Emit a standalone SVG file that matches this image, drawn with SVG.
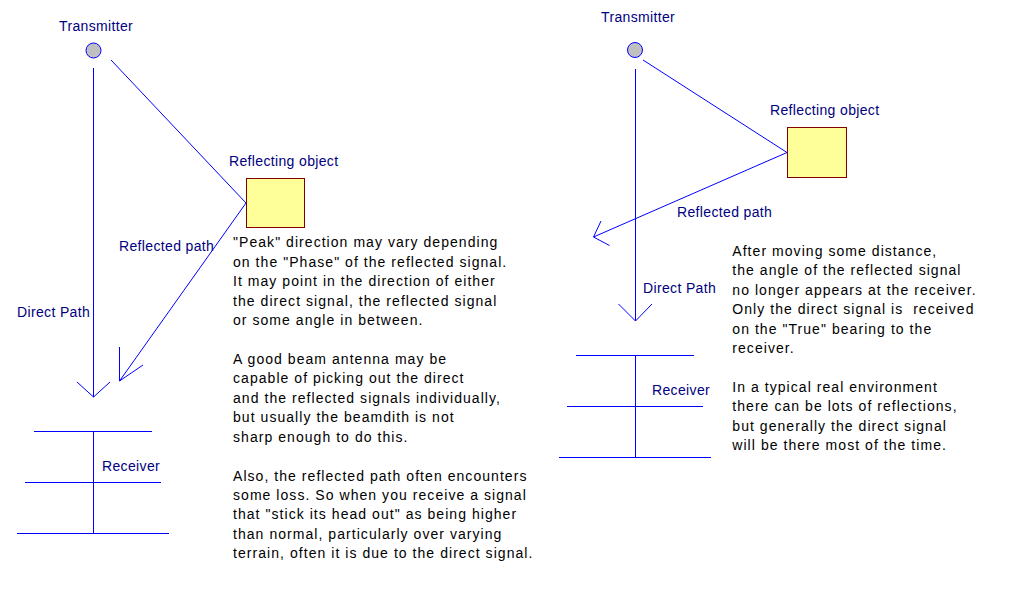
<svg xmlns="http://www.w3.org/2000/svg" width="1016" height="592" viewBox="0 0 1016 592">
<style>
.bg{fill:#ffffff}
.ln{stroke:#0000ff;stroke-width:1;fill:none}
.tx{fill:#c0c0c0;stroke:#0000ff;stroke-width:1}
.obj{fill:#ffff99;stroke:#800000;stroke-width:1}
.lbl{font-family:"Liberation Sans",Arial,sans-serif;font-size:14px;letter-spacing:0.35px;fill:#000080}
.body{font-family:"Liberation Sans",Arial,sans-serif;font-size:14px;letter-spacing:1.05px;fill:#000000;white-space:pre}
</style>
<rect class="bg" x="0" y="0" width="1016" height="592"/>

<!-- Left scene -->
<g id="left-transmitter">
  <circle class="tx" cx="93.5" cy="50.5" r="7.5"/>
  <text class="lbl" x="59" y="31">Transmitter</text>
</g>
<g id="left-reflector">
  <rect class="obj" x="246.5" y="178.5" width="58" height="49"/>
  <text class="lbl" x="229" y="166">Reflecting object</text>
</g>
<g id="left-receiver">
  <line class="ln" x1="93.5" y1="431" x2="93.5" y2="533"/>
  <line class="ln" x1="34" y1="431.5" x2="152" y2="431.5"/>
  <line class="ln" x1="25" y1="482.5" x2="161" y2="482.5"/>
  <line class="ln" x1="17" y1="533.5" x2="169" y2="533.5"/>
  <text class="lbl" x="102" y="471">Receiver</text>
</g>
<g id="left-connectors">
  <line class="ln" x1="93.5" y1="68" x2="93.5" y2="397"/>
  <polyline class="ln" points="77,382 93.5,397 110,382"/>
  <line class="ln" x1="111" y1="60" x2="246" y2="203"/>
  <line class="ln" x1="246" y1="203" x2="119.5" y2="381"/>
  <polyline class="ln" points="119.5,347 119.5,381 143,365"/>
  <text class="lbl" x="17" y="317">Direct Path</text>
  <text class="lbl" x="119" y="251">Reflected path</text>
</g>
<g id="left-notes">
  <text class="body">
    <tspan x="233" y="247.3">"Peak" direction may vary depending</tspan>
    <tspan x="233" y="266.7">on the "Phase" of the reflected signal.</tspan>
    <tspan x="233" y="286.2">It may point in the direction of either</tspan>
    <tspan x="233" y="305.6">the direct signal, the reflected signal</tspan>
    <tspan x="233" y="325.1">or some angle in between.</tspan>
    <tspan x="233" y="364.0">A good beam antenna may be</tspan>
    <tspan x="233" y="383.4">capable of picking out the direct</tspan>
    <tspan x="233" y="402.8">and the reflected signals individually,</tspan>
    <tspan x="233" y="422.3">but usually the beamdith is not</tspan>
    <tspan x="233" y="441.7">sharp enough to do this.</tspan>
    <tspan x="233" y="480.6">Also, the reflected path often encounters</tspan>
    <tspan x="233" y="500.0">some loss. So when you receive a signal</tspan>
    <tspan x="233" y="519.4">that "stick its head out" as being higher</tspan>
    <tspan x="233" y="538.9">than normal, particularly over varying</tspan>
    <tspan x="233" y="558.3">terrain, often it is due to the direct signal.</tspan>
  </text>
</g>

<!-- Right scene -->
<g id="right-transmitter">
  <circle class="tx" cx="635" cy="50" r="7.5"/>
  <text class="lbl" x="601" y="22">Transmitter</text>
</g>
<g id="right-reflector">
  <rect class="obj" x="787.5" y="127.5" width="59" height="50"/>
  <text class="lbl" x="770" y="114.5">Reflecting object</text>
</g>
<g id="right-receiver">
  <line class="ln" x1="635.5" y1="355" x2="635.5" y2="457"/>
  <line class="ln" x1="576" y1="355.5" x2="694" y2="355.5"/>
  <line class="ln" x1="567" y1="406.5" x2="703" y2="406.5"/>
  <line class="ln" x1="559" y1="457.5" x2="711" y2="457.5"/>
  <text class="lbl" x="652" y="395">Receiver</text>
</g>
<g id="right-connectors">
  <line class="ln" x1="635.5" y1="69" x2="635.5" y2="321"/>
  <polyline class="ln" points="618.5,304 635.5,321 652,304"/>
  <line class="ln" x1="643" y1="60" x2="787" y2="152.5"/>
  <line class="ln" x1="787" y1="152.5" x2="593.5" y2="237"/>
  <polyline class="ln" points="601,221 593.5,237 609.5,245.5"/>
  <text class="lbl" x="643" y="293">Direct Path</text>
  <text class="lbl" x="677" y="217">Reflected path</text>
</g>
<g id="right-notes">
  <text class="body">
    <tspan x="732.3" y="255.7">After moving some distance,</tspan>
    <tspan x="732.3" y="275.1">the angle of the reflected signal</tspan>
    <tspan x="732.3" y="294.6">no longer appears at the receiver.</tspan>
    <tspan x="732.3" y="314.0">Only the direct signal is  received</tspan>
    <tspan x="732.3" y="333.5">on the "True" bearing to the</tspan>
    <tspan x="732.3" y="352.9">receiver.</tspan>
    <tspan x="732.3" y="391.8">In a typical real environment</tspan>
    <tspan x="732.3" y="411.2">there can be lots of reflections,</tspan>
    <tspan x="732.3" y="430.7">but generally the direct signal</tspan>
    <tspan x="732.3" y="450.1">will be there most of the time.</tspan>
  </text>
</g>
</svg>
